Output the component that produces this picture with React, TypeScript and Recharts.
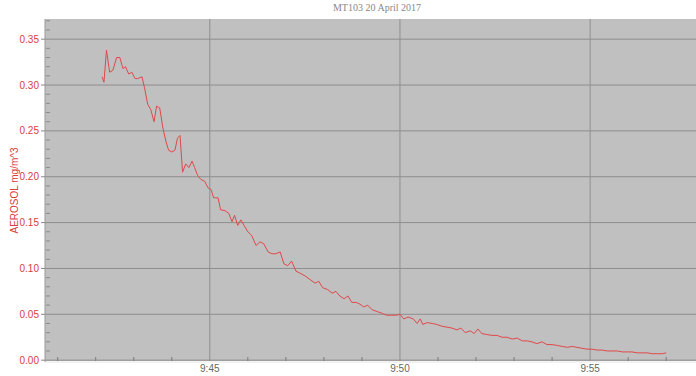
import React from "react";
import { LineChart, Line, XAxis, YAxis, CartesianGrid } from "recharts";

// seconds since 9:00
const TIMES = [
  2530, 2533, 2537, 2542, 2547, 2553, 2558, 2563, 2567, 2572, 2577, 2582, 2586, 2593, 2597,
  2602, 2607, 2612, 2616, 2621, 2626, 2631, 2635, 2640, 2645, 2649, 2653, 2657, 2662, 2667,
  2672, 2676, 2681, 2686, 2692, 2697, 2702, 2706, 2713, 2717, 2724, 2730, 2735, 2739, 2744,
  2749, 2754, 2760, 2766, 2773, 2779, 2785, 2792, 2798, 2804, 2811, 2817, 2823, 2829, 2836,
  2842, 2850, 2858, 2866, 2872, 2878, 2886, 2893, 2899, 2905, 2912, 2918, 2924, 2931, 2937,
  2943, 2949, 2956, 2964, 2972, 2979, 2987, 2994, 3000, 3006, 3013, 3021, 3027, 3032, 3036,
  3043, 3051, 3058, 3066, 3074, 3082, 3090, 3096, 3103, 3111, 3117, 3123, 3129, 3137, 3145,
  3153, 3161, 3169, 3177, 3185, 3193, 3201, 3208, 3216, 3224, 3232, 3240, 3248, 3256, 3264,
  3272, 3279, 3287, 3295, 3303, 3311, 3319, 3327, 3335, 3343, 3351, 3359, 3366, 3374, 3382,
  3390, 3398, 3406, 3414, 3420,
];

const AEROSOL = [
  0.309, 0.303, 0.338, 0.314, 0.316, 0.33, 0.33, 0.318, 0.32, 0.312, 0.314, 0.307, 0.307, 0.309, 0.297,
  0.279, 0.273, 0.26, 0.277, 0.275, 0.253, 0.238, 0.229, 0.227, 0.229, 0.242, 0.245, 0.205, 0.214, 0.21,
  0.217, 0.21, 0.201, 0.197, 0.195, 0.188, 0.186, 0.177, 0.177, 0.164, 0.163, 0.16, 0.151, 0.158, 0.147,
  0.153, 0.147, 0.14, 0.136, 0.125, 0.129, 0.127, 0.118, 0.116, 0.116, 0.118, 0.105, 0.103, 0.108, 0.097,
  0.095, 0.092, 0.088, 0.084, 0.086, 0.079, 0.077, 0.073, 0.075, 0.07, 0.067, 0.07, 0.063, 0.063, 0.061,
  0.058, 0.06, 0.055, 0.053, 0.051, 0.049, 0.049, 0.049, 0.05, 0.045, 0.047, 0.045, 0.04, 0.045, 0.039,
  0.041, 0.04, 0.039, 0.037, 0.036, 0.035, 0.033, 0.035, 0.03, 0.032, 0.029, 0.034, 0.029, 0.028, 0.027,
  0.027, 0.025, 0.025, 0.023, 0.024, 0.021, 0.021, 0.02, 0.018, 0.02, 0.017, 0.017, 0.016, 0.015, 0.014,
  0.015, 0.014, 0.013, 0.012, 0.012, 0.011, 0.011, 0.01, 0.01, 0.01, 0.009, 0.009, 0.009, 0.008, 0.008,
  0.008, 0.007, 0.007, 0.007, 0.008,
];

const X_MAJOR = [2700, 3000, 3300];
const X_TICKS = [
  2460, 2520, 2580, 2640, 2700, 2760, 2820, 2880, 2940, 3000, 3060, 3120, 3180, 3240, 3300, 3360, 3420,
];
const Y_MAJOR = [0, 0.05, 0.1, 0.15, 0.2, 0.25, 0.3, 0.35];
const Y_TICKS = [
  0, 0.01, 0.02, 0.03, 0.04, 0.05, 0.06, 0.07, 0.08, 0.09, 0.1, 0.11, 0.12, 0.13, 0.14, 0.15, 0.16,
  0.17, 0.18, 0.19, 0.2, 0.21, 0.22, 0.23, 0.24, 0.25, 0.26, 0.27, 0.28, 0.29, 0.3, 0.31, 0.32, 0.33,
  0.34, 0.35, 0.36, 0.37,
];

const data = TIMES.map((t, i) => ({ t, v: AEROSOL[i] }));

const RED = "#d8403c";
const font = "'Liberation Sans', Arial, sans-serif";
const X_DOMAIN: [number, number] = [2440, 3467];
const Y_DOMAIN: [number, number] = [-0.002, 0.372];

const isMajor = (list: number[], v: number) => list.some((m) => Math.abs(m - v) < 1e-6);

const fmtTime = (t: number) => {
  const m = Math.round(t / 60);
  return `9:${m < 10 ? "0" + m : m}`;
};

const XTick = (props: any) => {
  const { x, y, payload } = props;
  const major = isMajor(X_MAJOR, payload.value);
  return (
    <g>
      {!major && <line x1={x} x2={x} y1={y - 5} y2={y - 1} stroke="#7a7a7a" />}
      {major && (
        <text x={x} y={y + 10} textAnchor="middle" fontSize={10} fill="#666" fontFamily={font}>
          {fmtTime(payload.value)}
        </text>
      )}
    </g>
  );
};

const YTick = (props: any) => {
  const { x, y, payload } = props;
  const major = isMajor(Y_MAJOR, payload.value);
  return (
    <g>
      {major ? (
        <>
          <line x1={x - 4} x2={x} y1={y} y2={y} stroke="#888" />
          <text x={x - 6} y={y + 3.5} textAnchor="end" fontSize={10} fill={RED} fontFamily={font}>
            {payload.value.toFixed(2)}
          </text>
        </>
      ) : (
        <line x1={x + 1} x2={x + 5} y1={y} y2={y} stroke="#8a8a8a" />
      )}
    </g>
  );
};

export default function App() {
  return (
    <div style={{ position: "absolute", left: 0, top: 0, width: 696, height: 376, background: "#fff" }}>
      <svg style={{ position: "absolute", left: 0, top: 0 }} width={696} height={20}>
        <text x={377} y={11} textAnchor="middle" fontFamily="'Liberation Serif', serif" fontSize={10} fill="#888">
          MT103 20 April 2017
        </text>
      </svg>
      <LineChart
        width={696}
        height={376}
        data={data}
        margin={{ top: 19, right: 0, bottom: 0, left: 0 }}
        style={{ position: "absolute", left: 0, top: 0 }}
      >
        <CartesianGrid
          fill="#c0c0c0"
          stroke="#8e8e8e"
          strokeWidth={1}
          horizontalValues={Y_MAJOR}
          verticalValues={X_MAJOR}
        />
        <XAxis
          dataKey="t"
          type="number"
          domain={X_DOMAIN}
          ticks={X_TICKS}
          interval={0}
          allowDataOverflow
          height={14}
          tickSize={0}
          tickMargin={0}
          tickLine={false}
          axisLine={{ stroke: "#f2f2f2", strokeWidth: 2 }}
          tick={XTick}
        />
        <YAxis
          type="number"
          domain={Y_DOMAIN}
          ticks={Y_TICKS}
          interval={0}
          allowDataOverflow
          width={45}
          tickSize={0}
          tickMargin={0}
          tickLine={false}
          axisLine={{ stroke: "#999" }}
          tick={YTick}
          label={{
            value: "AEROSOL  mg/m^3",
            angle: -90,
            position: "insideLeft",
            offset: 14,
            style: { textAnchor: "middle", fill: RED, fontSize: 10, fontFamily: font },
          }}
        />
        <Line
          dataKey="v"
          type="linear"
          stroke="#e0484a"
          strokeWidth={1}
          dot={false}
          isAnimationActive={false}
        />
      </LineChart>
    </div>
  );
}
